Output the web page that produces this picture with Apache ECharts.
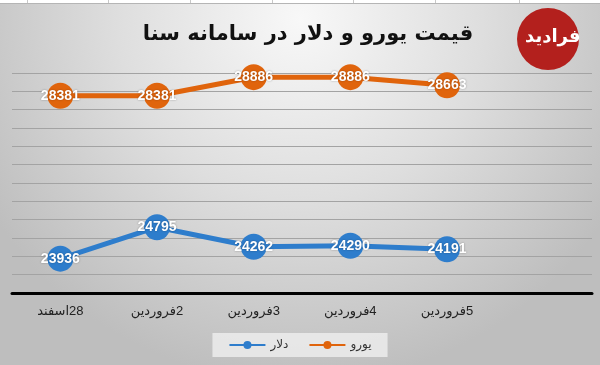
<!DOCTYPE html>
<html>
<head>
<meta charset="utf-8">
<script src="https://cdn.jsdelivr.net/npm/echarts@6/dist/echarts.min.js"></script>
<style>
html,body{margin:0;padding:0;background:#fff;}
#chart{width:600px;height:365px;direction:rtl;}
</style>
</head>
<body>
<div id="chart"></div>
<script>
var titleText = 'قیمت یورو و دلار در سامانه سنا';
var categories = ['28اسفند', '2فروردین', '3فروردین', '4فروردین', '5فروردین', ''];
var seriesNames = ['دلار', 'یورو'];
var dollarValues = [23936, 24795, 24262, 24290, 24191];
var euroValues = [28381, 28381, 28886, 28886, 28663];
var logoText = 'فرادید';

var chart = echarts.init(document.getElementById('chart'), null, {renderer: 'canvas'});

var labelStyle = {
  show: true,
  position: 'inside',
  color: '#ffffff',
  fontFamily: 'Liberation Sans, DejaVu Sans, sans-serif',
  fontWeight: 'bold',
  fontSize: 14,
  textShadowColor: 'rgba(0,0,0,0.35)',
  textShadowBlur: 2
};

var option = {
  animation: false,
  backgroundColor: {
    type: 'radial', x: 0.5, y: 0.05, r: 1.0,
    colorStops: [
      {offset: 0, color: '#f8f8f8'},
      {offset: 0.5, color: '#dedede'},
      {offset: 1, color: '#bebebe'}
    ]
  },
  title: {
    text: titleText,
    left: 303,
    textAlign: 'center',
    top: 19,
    textStyle: {
      fontFamily: 'DejaVu Sans, sans-serif',
      fontWeight: 'bold',
      fontSize: 21,
      color: '#111'
    }
  },
  legend: {
    data: seriesNames,
    left: 'center',
    top: 333,
    itemWidth: 36,
    itemHeight: 10,
    itemGap: 20,
    padding: [6, 16],
    backgroundColor: 'rgba(236,236,236,0.85)',
    textStyle: {
      fontFamily: 'DejaVu Sans, sans-serif',
      fontSize: 12,
      color: '#333'
    }
  },
  grid: {left: 12, right: 8, top: 73, bottom: 72},
  xAxis: {
    type: 'category',
    data: categories,
    boundaryGap: true,
    axisLine: {lineStyle: {color: '#000', width: 3}},
    axisTick: {show: false},
    axisLabel: {
      margin: 12,
      fontFamily: 'Liberation Sans, DejaVu Sans, sans-serif',
      fontSize: 13,
      color: '#222'
    }
  },
  yAxis: {
    type: 'value',
    min: 23000,
    max: 29000,
    interval: 500,
    axisLabel: {show: false},
    axisLine: {show: false},
    axisTick: {show: false},
    splitLine: {lineStyle: {color: '#a3a3a3', width: 1}}
  },
  series: [
    {
      name: seriesNames[0],
      type: 'line',
      data: dollarValues,
      color: '#2e7dcc',
      symbol: 'circle',
      symbolSize: 26,
      lineStyle: {width: 5, color: '#2e7dcc'},
      itemStyle: {color: '#2e7dcc'},
      label: labelStyle,
      z: 3
    },
    {
      name: seriesNames[1],
      type: 'line',
      data: euroValues,
      color: '#e0640c',
      symbol: 'circle',
      symbolSize: 26,
      lineStyle: {width: 5, color: '#e0640c'},
      itemStyle: {color: '#e0640c'},
      label: labelStyle,
      z: 3
    }
  ],
  graphic: [
    {type: 'rect', shape: {x: 0, y: 0, width: 600, height: 3}, style: {fill: '#ffffff'}, silent: true},
    {type: 'line', shape: {x1: 0, y1: 3.5, x2: 600, y2: 3.5}, style: {stroke: '#b5b5b5', lineWidth: 1}, silent: true},
    {type: 'line', shape: {x1: 27.5, y1: 0, x2: 27.5, y2: 3}, style: {stroke: '#c8c8c8', lineWidth: 1}, silent: true},
    {type: 'line', shape: {x1: 108.5, y1: 0, x2: 108.5, y2: 3}, style: {stroke: '#c8c8c8', lineWidth: 1}, silent: true},
    {type: 'line', shape: {x1: 190.5, y1: 0, x2: 190.5, y2: 3}, style: {stroke: '#c8c8c8', lineWidth: 1}, silent: true},
    {type: 'line', shape: {x1: 272.5, y1: 0, x2: 272.5, y2: 3}, style: {stroke: '#c8c8c8', lineWidth: 1}, silent: true},
    {type: 'line', shape: {x1: 353.5, y1: 0, x2: 353.5, y2: 3}, style: {stroke: '#c8c8c8', lineWidth: 1}, silent: true},
    {type: 'line', shape: {x1: 435.5, y1: 0, x2: 435.5, y2: 3}, style: {stroke: '#c8c8c8', lineWidth: 1}, silent: true},
    {type: 'line', shape: {x1: 519.5, y1: 0, x2: 519.5, y2: 3}, style: {stroke: '#c8c8c8', lineWidth: 1}, silent: true},
    {type: 'circle', shape: {cx: 548, cy: 39, r: 31}, style: {fill: '#b3201d'}, silent: true},
    {type: 'text', left: 525, top: 28, style: {text: logoText, fill: '#ffffff', font: 'bold 18px DejaVu Sans, sans-serif'}, silent: true}
  ]
};
chart.setOption(option);
</script>
</body>
</html>
